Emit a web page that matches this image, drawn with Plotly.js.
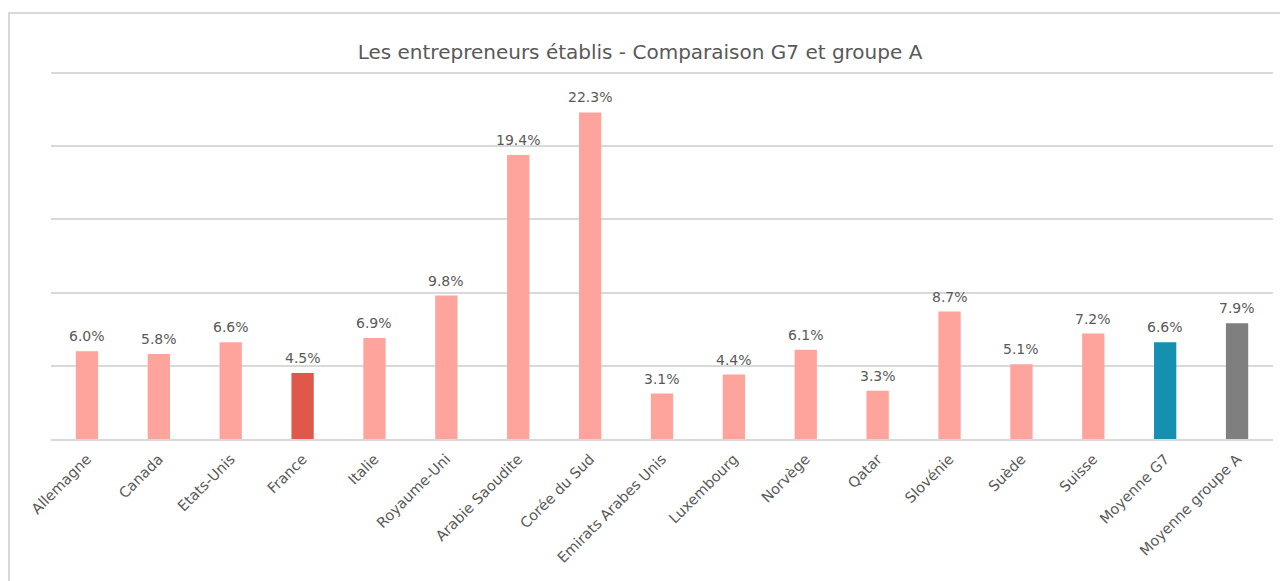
<!DOCTYPE html>
<html><head><meta charset="utf-8">
<script src="https://cdn.plot.ly/plotly-3.0.1.min.js"></script>
<style>
html,body{margin:0;padding:0;background:#fff;}
#frame{position:absolute;left:8px;top:12px;width:1290px;height:600px;border:2px solid #d9d9d9;box-sizing:border-box;}
#chart{position:absolute;left:0;top:0;width:1280px;height:581px;}
</style></head>
<body>
<div id="frame"></div>
<div id="chart"></div>
<script>
const categories = ["Allemagne","Canada","Etats-Unis","France","Italie","Royaume-Uni","Arabie Saoudite","Corée du Sud","Emirats Arabes Unis","Luxembourg","Norvège","Qatar","Slovénie","Suède","Suisse","Moyenne G7","Moyenne groupe A"];
const values = [6.0,5.8,6.6,4.5,6.9,9.8,19.4,22.3,3.1,4.4,6.1,3.3,8.7,5.1,7.2,6.6,7.9];
const barColors = ["#FFA39D","#FFA39D","#FFA39D","#E0574B","#FFA39D","#FFA39D","#FFA39D","#FFA39D","#FFA39D","#FFA39D","#FFA39D","#FFA39D","#FFA39D","#FFA39D","#FFA39D","#1590B0","#7F7F7F"];
const titleText = "Les entrepreneurs établis - Comparaison G7 et groupe A";

const font = "'DejaVu Sans', 'Noto Sans', sans-serif";
const labelAnnotations = categories.map((c, i) => ({
  x: c, y: values[i], xref:'x', yref:'y',
  text: values[i].toFixed(1) + '%',
  showarrow:false, yanchor:'bottom', yshift:5,
  font:{family:font, size:14, color:'#595959'}
}));
Plotly.newPlot('chart', [{
  type:'bar', x:categories, y:values,
  marker:{color:barColors},
  hoverinfo:'x+y'
}], {
  width:1280, height:581,
  margin:{l:51, r:7, t:70, b:142},
  paper_bgcolor:'rgba(0,0,0,0)', plot_bgcolor:'rgba(0,0,0,0)',
  bargap:0.69,
  title:{text:titleText, x:0.5, xanchor:'center', y:0.91, yanchor:'middle', font:{family:font, size:20, color:'#595959'}},
  xaxis:{tickangle:-45, tickfont:{family:font, size:14.5, color:'#595959'}, ticklabelstandoff:4, showgrid:false, showline:true, linecolor:'#d9d9d9', linewidth:2, ticks:''},
  yaxis:{range:[0,25.2], dtick:5, showticklabels:false, gridcolor:'#d9d9d9', gridwidth:1.5, zeroline:false, ticks:''},
  annotations: labelAnnotations,
  showlegend:false
}, {displayModeBar:false});
</script>
</body></html>
